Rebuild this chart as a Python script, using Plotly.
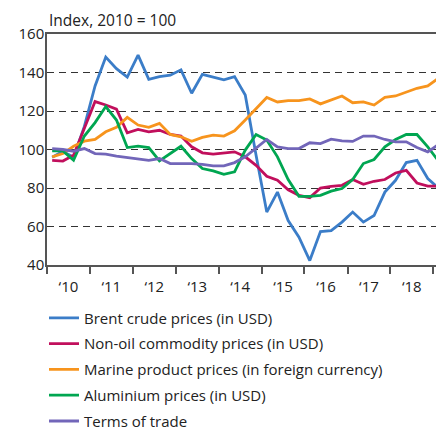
import plotly.graph_objects as go
import pandas as pd

# Quarterly data, 2010Q1 .. 2019Q1 (index, 2010 = 100)
quarters = pd.period_range("2010Q1", "2019Q1", freq="Q")
dates = [(p.start_time + (p.end_time - p.start_time) / 2).strftime("%Y-%m-%d") for p in quarters]

brent = [96, 99, 96, 112, 133, 148, 142, 137.6, 149,
         136.5, 137.9, 138.6, 141.4, 129.2, 139, 137.6, 136.2, 137.9,
         128.3, 97, 67.5, 77.9, 63.1, 54.4, 42.3, 57.4, 57.9,
         62.3, 67.5, 62.3, 65.7, 77.9, 84, 93.2, 94.4, 84.9, 80]
non_oil = [94.4, 94, 97, 111, 124.9, 123.1, 121, 108.7, 110.4,
           109.2, 110, 107.8, 107, 101.4, 98.3, 97.6, 98.3, 98.8,
           96.2, 91.8, 86.1, 84, 79.1, 76.2, 75, 80, 80.9,
           81.4, 84.4, 81.9, 83.5, 84.4, 87.8, 89.2, 82.6, 81, 81]
marine = [96.2, 97.9, 101.7, 104.3, 105.2, 109.2, 111.5, 116.7, 112.7,
          111.5, 113.6, 107.8, 106.6, 104.3, 106.3, 107.5, 107, 109.7,
          115.3, 121.4, 127, 124.7, 125.4, 125.4, 126.3, 123.7, 125.7,
          127.8, 124.3, 124.7, 123.1, 127.1, 127.8, 129.6, 131.8, 133, 137]
aluminium = [99.3, 99.3, 94.4, 107, 114, 122.3, 115.3, 101, 101.7,
             101, 94.1, 97.9, 101.7, 95.3, 90.1, 88.9, 87.1, 88.4,
             99.7, 107.8, 104.9, 96.2, 84.4, 75.7, 75.7, 76.2, 78.4,
             79.7, 84.4, 92.7, 94.8, 101.4, 105.2, 107.8, 107.8, 101.4, 94]
tot = [100.5, 100, 99.1, 100.5, 97.9, 97.6, 96.5, 95.8, 94.8,
       94.4, 95.3, 92.7, 92.7, 92.7, 92.3, 91.5, 91.5, 93.2,
       96.2, 100.5, 105.2, 101.4, 100.5, 100.5, 103.5, 103.1, 105.4,
       104.5, 104.2, 107, 107, 105.2, 104, 104, 101, 98.8, 102.6]

names = ["Brent crude prices (in USD)", "Non-oil commodity prices (in USD)",
         "Marine product prices (in foreign currency)", "Aluminium prices (in USD)",
         "Terms of trade"]
colors = ["#3b7dc8", "#c10f5c", "#f7941d", "#00a651", "#7266b9"]
series = [brent, non_oil, marine, aluminium, tot]

FONT = "Open Sans"
fig = go.Figure()
for i, (nm, col, ys) in enumerate(zip(names, colors, series)):
    fig.add_trace(go.Scatter(x=dates, y=ys, mode="lines", name=nm,
                             legendgroup=f"g{i}",
                             line=dict(color=col, width=2.8)))

fig.update_layout(
    width=436, height=432,
    margin=dict(l=47, r=0, t=34, b=167, autoexpand=False),
    paper_bgcolor="white", plot_bgcolor="white",
    font=dict(family=FONT, size=15, color="#222"),
    showlegend=True,
    legend=dict(x=-0.0077, xanchor="left", xref="paper",
                y=0.302, yanchor="top", yref="container",
                tracegroupgap=3.3, font=dict(size=15, color="#222"),
                bgcolor="rgba(0,0,0,0)"),
    annotations=[dict(text="Index, 2010 = 100", xref="paper", yref="paper",
                      x=0, y=1, xanchor="left", yanchor="bottom", yshift=1,
                      showarrow=False, font=dict(size=15.5, color="#222"))],
)
fig.update_xaxes(
    type="date", range=["2010-01-01", "2019-01-24"],
    dtick="M12", tick0="2010-01-01", ticklabelmode="period", tickformat="‘%y",
    ticks="outside", ticklen=7, tickcolor="#555", tickwidth=1.5,
    showline=True, linecolor="#555", linewidth=1.5, mirror=True,
    showgrid=False, zeroline=False,
    tickfont=dict(size=15, color="#222"),
)
fig.update_yaxes(
    range=[40, 160], dtick=20, tick0=40,
    showline=True, linecolor="#555", linewidth=1.5,
    showgrid=True, gridcolor="#333", gridwidth=1.1, griddash="7px,5px",
    ticks="", ticklabelstandoff=-2, zeroline=False,
    tickfont=dict(size=15, color="#222"),
)
fig.write_html("out.html", config={"displayModeBar": False},
               post_script="document.body.style.margin='0';")
